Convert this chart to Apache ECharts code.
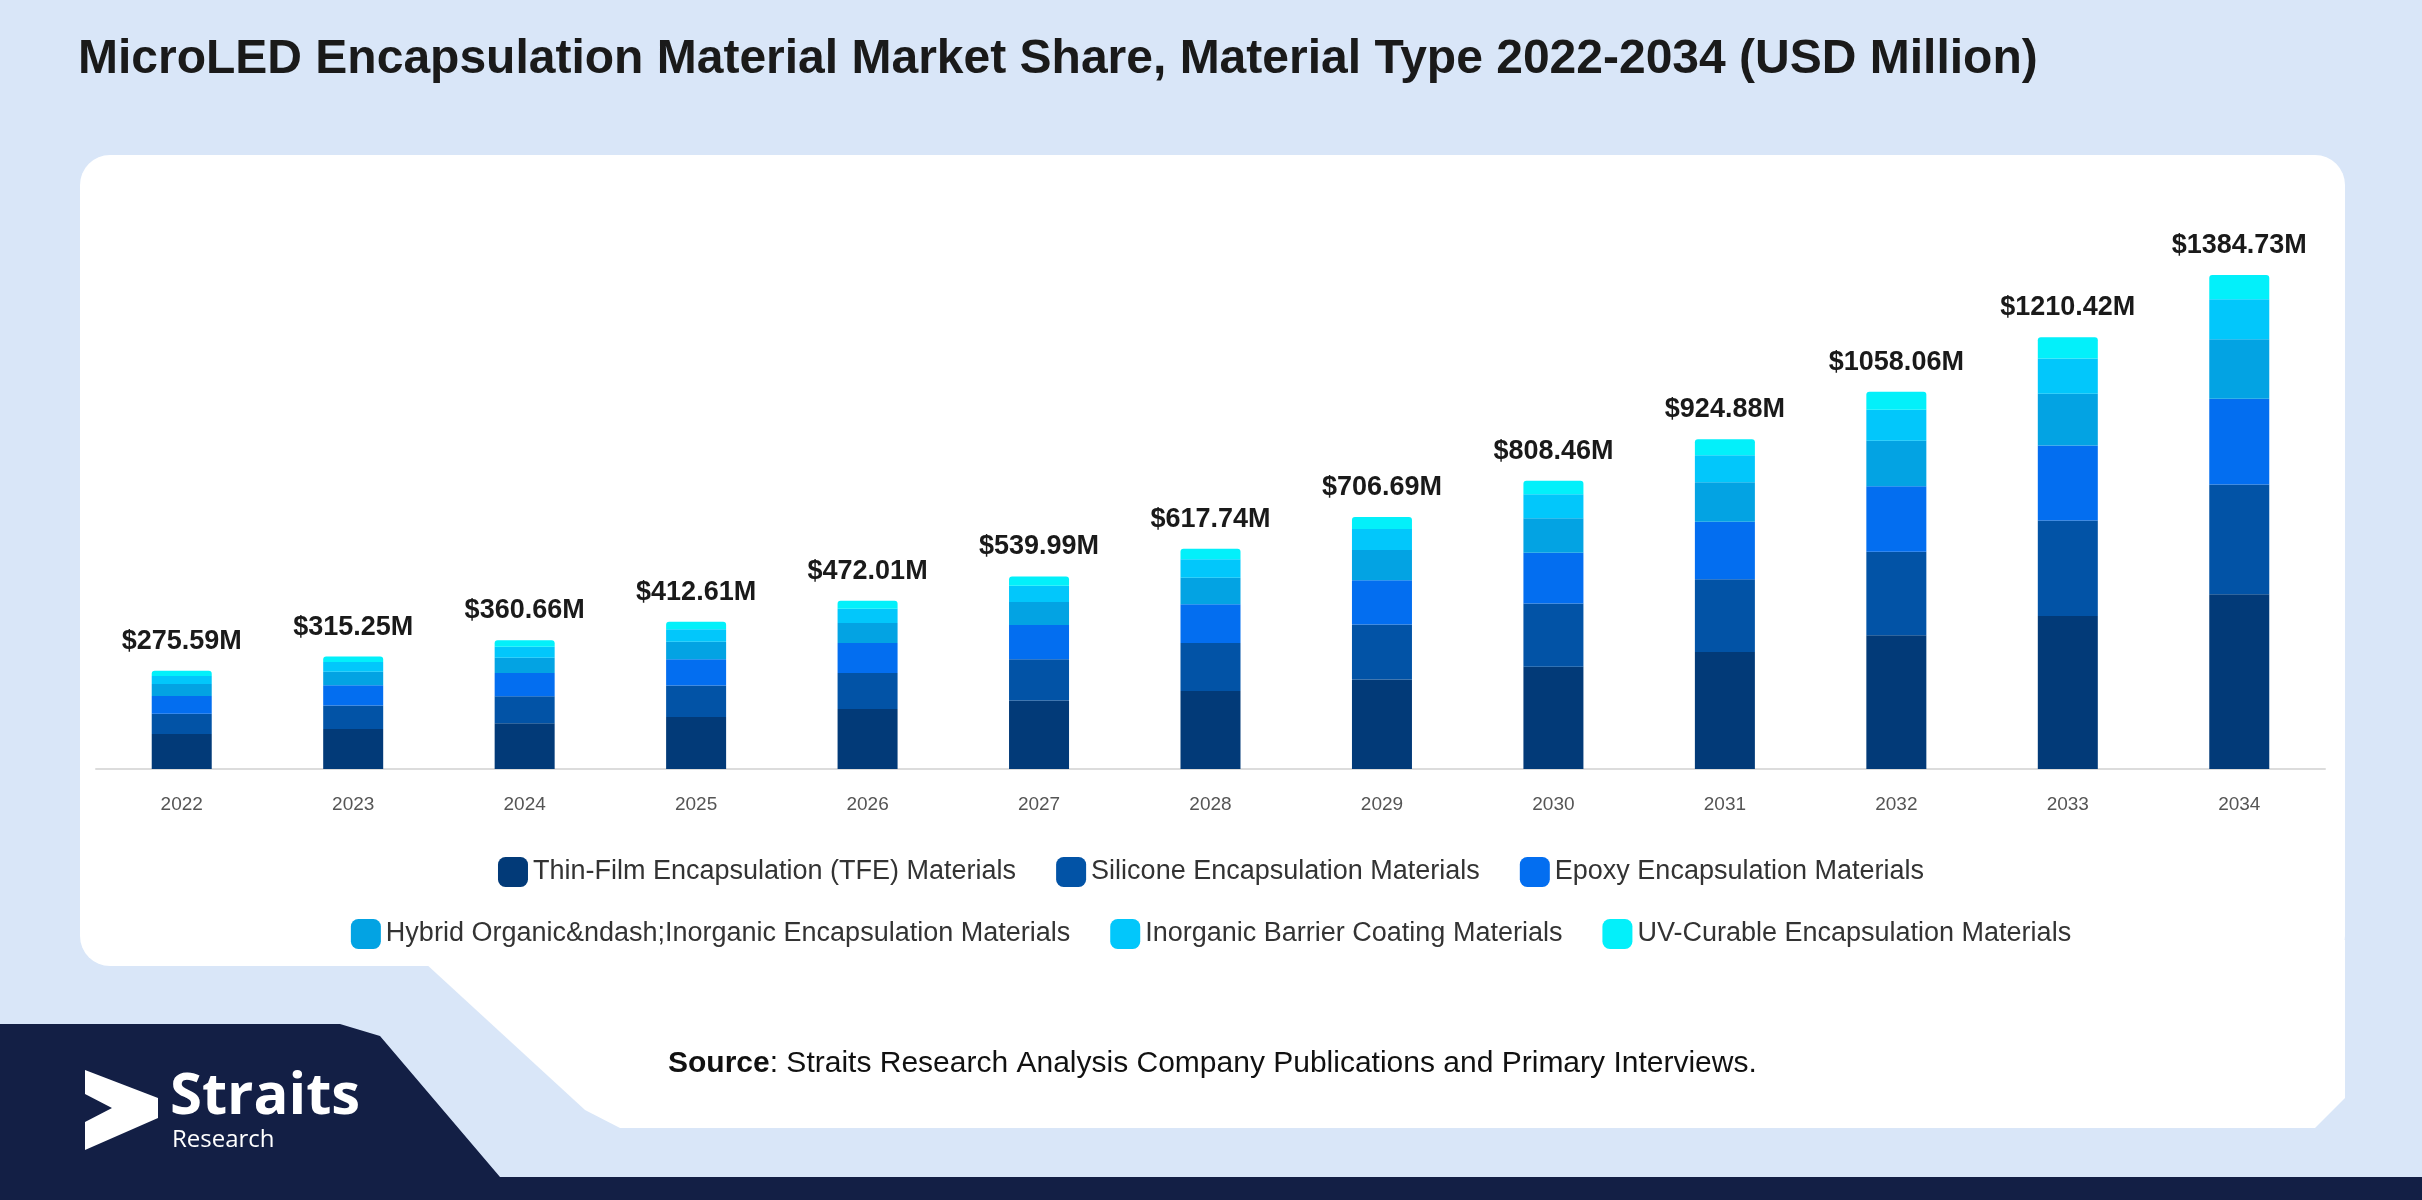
<!DOCTYPE html>
<html><head><meta charset="utf-8">
<script src="https://cdn.jsdelivr.net/npm/echarts@6/dist/echarts.min.js"></script>
<style>html,body{margin:0;padding:0;background:#d9e6f8}#c{width:2422px;height:1200px}</style>
</head><body><div id="c"></div>
<script>
const years = ['2022','2023','2024','2025','2026','2027','2028','2029','2030','2031','2032','2033','2034'];
const totals = [275.59,315.25,360.66,412.61,472.01,539.99,617.74,706.69,808.46,924.88,1058.06,1210.42,1384.73];
const seriesNames = ['Thin-Film Encapsulation (TFE) Materials','Silicone Encapsulation Materials','Epoxy Encapsulation Materials','Hybrid Organic&ndash;Inorganic Encapsulation Materials','Inorganic Barrier Coating Materials','UV-Curable Encapsulation Materials'];
const tfe = [98,112,128,146,168,192,219,251,287,328,375,429,490];
const silicone = [57,66,76,88,101,116,134,154,177,204,234,268,308];
const epoxy = [50,57,65,74,84,96,109,124,142,161,184,210,240];
const hybrid = [33,38,43,49,56,64,74,85,97,111,127,145,167];
const inorganic = [23,27,31,35,40,46,52,59,67,76,87,99,112];
const uv = [14.59,15.25,17.66,20.61,23.01,25.99,29.74,33.69,38.46,44.88,51.06,59.42,67.73];
const colors = ['#023a78','#0253a6','#036ef0','#03a3e3','#02c7fb','#03f0fa'];
const data = [tfe,silicone,epoxy,hybrid,inorganic,uv];

const chart = echarts.init(document.getElementById('c'));
const series = data.map((d,i)=>({
  name: seriesNames[i], type:'bar', stack:'t', data:d, barWidth:60,
  itemStyle:{color:colors[i], borderRadius: i===5?[3,3,0,0]:0},
  label: i===5 ? {show:true, position:'top', distance:16, fontFamily:'Liberation Sans, Arial', fontWeight:'bold', fontSize:27, color:'#1a1a1a',
    formatter:p=>'$'+totals[p.dataIndex].toFixed(2)+'M'} : {show:false}
}));
chart.setOption({
  animation:false,
  backgroundColor:'#d9e6f8',
  graphic:[
    {type:'rect', z:-10, shape:{x:80,y:155,width:2265,height:811,r:30}, style:{fill:'#ffffff'}},
    {type:'polygon', z:-10, shape:{points:[[400,940],[2345,940],[2345,1098],[2315,1128],[620,1128],[585,1110]]}, style:{fill:'#ffffff'}},
    {type:'polygon', z:-9, shape:{points:[[0,1024],[340,1024],[380,1036],[500,1177],[2422,1177],[2422,1200],[0,1200]]}, style:{fill:'#131f45'}},
    {type:'polygon', z:-8, shape:{points:[[85,1070],[158,1098],[158,1118],[85,1150],[85,1122],[112,1108],[85,1094]]}, style:{fill:'#ffffff'}},
    {type:'text', left:170, top:1068, style:{text:'Straits', fill:'#ffffff', font:'bold 58px "Open Sans", sans-serif'}},
    {type:'text', left:172, top:1128, style:{text:'Research', fill:'#ffffff', font:'24px "Open Sans", sans-serif'}},
    {type:'text', left:78, top:36, style:{text:'MicroLED Encapsulation Material Market Share, Material Type 2022-2034 (USD Million)', fill:'#1a1a1a', font:'bold 48px "Liberation Sans", Arial'}},
    {type:'text', left:668, top:1049, style:{rich:{b:{font:'bold 30px "Liberation Sans", Arial',fill:'#111'},n:{font:'30px "Liberation Sans", Arial',fill:'#111'}}, text:'{b|Source}{n|: Straits Research Analysis Company Publications and Primary Interviews.}'}}
  ],
  grid:{left:96,right:97,top:234,bottom:431},
  xAxis:{type:'category', data:years, axisTick:{show:false}, axisLine:{lineStyle:{color:'#dcdcdc',width:2}},
    axisLabel:{color:'#555', fontSize:19, margin:26, fontFamily:'Liberation Sans, Arial'}},
  yAxis:{type:'value', min:0, max:1500, show:false, splitLine:{show:false}},
  legend:[
    {data:seriesNames.slice(0,3), top:852, left:'center', itemWidth:30, itemHeight:30, itemGap:40, icon:'roundRect',
      textStyle:{fontSize:27, color:'#333', fontFamily:'Liberation Sans, Arial'}},
    {data:seriesNames.slice(3), top:914, left:'center', itemWidth:30, itemHeight:30, itemGap:40, icon:'roundRect',
      textStyle:{fontSize:27, color:'#333', fontFamily:'Liberation Sans, Arial'}}
  ],
  series
});
</script></body></html>
